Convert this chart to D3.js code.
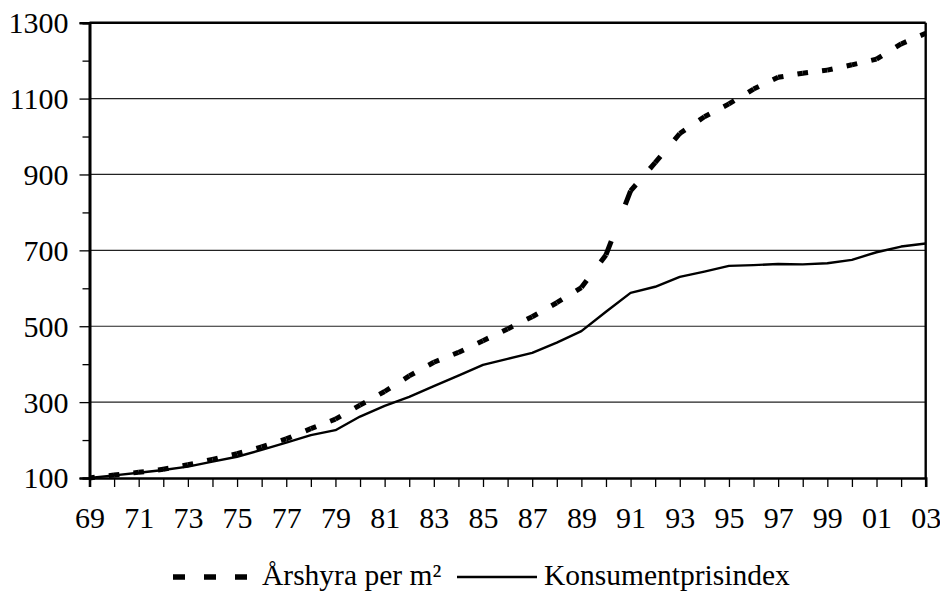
<!DOCTYPE html>
<html>
<head>
<meta charset="utf-8">
<script src="https://cdn.jsdelivr.net/npm/d3@7"></script>
<style>
  html, body { margin: 0; padding: 0; background: #fff; }
  svg { display: block; }
  text { font-family: "Liberation Serif", "Times New Roman", serif; fill: #000; }
</style>
</head>
<body>
<svg id="chart" width="940" height="592"></svg>
<script>
const years = d3.range(1969, 2004);
const arshyra = [100,108,115,123,135,149,164,182,203,230,255,292,328,369,405,431,462,493,525,562,602,688,857,931,1008,1052,1086,1125,1156,1167,1175,1189,1204,1244,1272];
const kpi = [100,107,114,121,130,143,156,174,193,213,226,262,290,314,342,370,398,414,430,457,487,538,588,604,630,644,659,661,664,663,666,675,695,710,718];
const yMajor = [100,300,500,700,900,1100,1300];
const yMinor = [200,400,600,800,1000,1200];
const seriesNames = ["Årshyra per m²", "Konsumentprisindex"];

const svg = d3.select("#chart");
const L = 89.5, R = 925.7, T = 22.7, B = 478;
const x = d3.scaleLinear().domain([1969, 2003]).range([L, R]);
const y = d3.scaleLinear().domain([100, 1300]).range([B, T]);
const FS = 30, LFS = 29.5;

// gridlines
svg.append("g").selectAll("line").data(yMajor.filter(v => v > 100 && v < 1300)).join("line")
  .attr("x1", L).attr("x2", R).attr("y1", d => y(d)).attr("y2", d => y(d))
  .attr("stroke", "#222").attr("stroke-width", 1.2);

// frame top / right
svg.append("line").attr("x1", L).attr("x2", R).attr("y1", T).attr("y2", T).attr("stroke", "#000").attr("stroke-width", 2.4);
svg.append("line").attr("x1", R).attr("x2", R).attr("y1", T).attr("y2", B).attr("stroke", "#000").attr("stroke-width", 2.4);

// y axis
const yAx = svg.append("g").attr("transform", `translate(${L},0)`)
  .call(d3.axisLeft(y).tickValues(yMajor).tickSize(10).tickPadding(11).tickFormat(d3.format("d")));
const yAxMin = svg.append("g").attr("transform", `translate(${L},0)`)
  .call(d3.axisLeft(y).tickValues(yMinor).tickSize(7).tickFormat(""));
[yAx, yAxMin].forEach(g => {
  g.select(".domain").attr("stroke", "#000").attr("stroke-width", 2.6);
  g.selectAll(".tick line").attr("stroke", "#000").attr("stroke-width", 1.3);
});
yAx.selectAll("text").attr("font-size", FS).attr("font-family", "Liberation Serif").attr("fill", "#000").attr("dy", "0.33em");

// x axis
const xAx = svg.append("g").attr("transform", `translate(0,${B})`)
  .call(d3.axisBottom(x).tickValues(years).tickSize(9).tickPadding(20)
    .tickFormat(d => (d % 2 === 1) ? String(d % 100).padStart(2, "0") : ""));
xAx.select(".domain").attr("stroke", "#000").attr("stroke-width", 2.6);
xAx.selectAll(".tick line").attr("stroke", "#000").attr("stroke-width", 1.3);
xAx.selectAll("text").attr("font-size", FS).attr("font-family", "Liberation Serif").attr("fill", "#000");

// solid line (KPI)
const line = d3.line().x((d, i) => x(years[i])).y(d => y(d));
svg.append("path").datum(kpi).attr("d", line)
  .attr("fill", "none").attr("stroke", "#000").attr("stroke-width", 2.4).attr("stroke-linejoin", "round");

// dashed line (Årshyra), drawn segment by segment with a dash centred on each point
const frac = 0.215;
const segs = d3.pairs(arshyra.map((v, i) => [x(years[i]), y(v)]));
svg.append("g").selectAll("path").data(segs).join("path")
  .attr("d", d => d3.line()(d))
  .attr("fill", "none").attr("stroke", "#000").attr("stroke-width", 5)
  .attr("stroke-dasharray", d => {
    const len = Math.hypot(d[1][0] - d[0][0], d[1][1] - d[0][1]);
    const h = frac * len;
    return `${h} ${len - 2 * h} ${h}`;
  });

// legend
const ly = 577;
const lg = svg.append("g");
lg.append("line").attr("x1", 173).attr("x2", 247).attr("y1", ly).attr("y2", ly)
  .attr("stroke", "#000").attr("stroke-width", 5.5).attr("stroke-dasharray", "12 19");
lg.append("text").attr("x", 262).attr("y", 585).attr("font-size", LFS).text(seriesNames[0]);
lg.append("line").attr("x1", 457).attr("x2", 537).attr("y1", ly).attr("y2", ly)
  .attr("stroke", "#000").attr("stroke-width", 2.4);
lg.append("text").attr("x", 544).attr("y", 585).attr("font-size", LFS).text(seriesNames[1]);
</script>
</body>
</html>
